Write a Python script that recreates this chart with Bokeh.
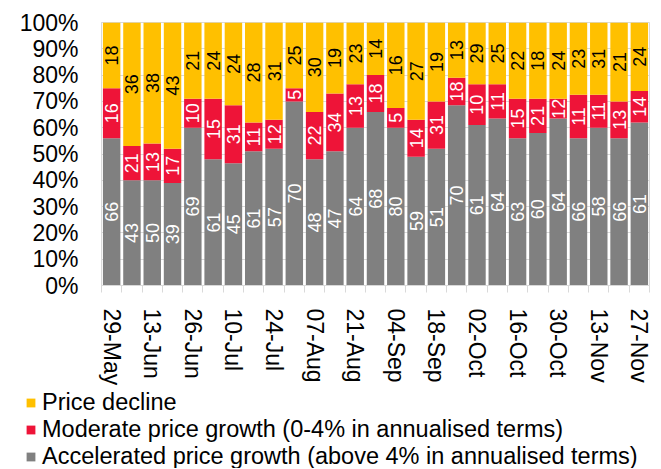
import numpy as np
from bokeh.plotting import figure
from bokeh.models import (ColumnDataSource, FixedTicker, Legend, LegendItem, Range1d)
from bokeh.core.properties import value
from bokeh.embed import file_html
from bokeh.resources import INLINE

# ---- data ----
tick_labels = ["29-May", "13-Jun", "26-Jun", "10-Jul", "24-Jul", "07-Aug", "21-Aug",
               "04-Sep", "18-Sep", "02-Oct", "16-Oct", "30-Oct", "13-Nov", "27-Nov"]

# shares of the bar height (percent)
accel_share = [56, 40, 40, 39, 60, 48, 46.5, 51, 52, 70, 48, 51, 60, 66, 60, 49, 52,
               68.5, 61, 63.5, 56, 58, 63.5, 56, 60, 56, 62]
moder_share = [19, 13, 14, 13, 11, 23, 22, 11, 11, 5, 18, 22, 16.5, 14, 7.5, 14, 18,
               10.5, 15.5, 13, 15, 13, 7.5, 16.5, 12.5, 14, 12]
decl_share = [25, 47, 46, 48, 29, 29, 31.5, 38, 37, 25, 34, 27, 23.5, 20, 32.5, 37, 30,
              21, 23.5, 23.5, 29, 29, 29, 27.5, 27.5, 30, 26]

# numbers printed in the segments
accel_lbl = [66, 43, 50, 39, 69, 61, 45, 61, 57, 70, 48, 47, 64, 68, 80, 59, 51, 70, 61,
             64, 63, 60, 64, 66, 58, 66, 61]
moder_lbl = [16, 21, 13, 17, 10, 15, 31, 11, 12, 5, 22, 34, 13, 18, 5, 14, 31, 18, 10, 11,
             15, 21, 12, 11, 11, 13, 14]
decl_lbl = [18, 36, 38, 43, 21, 24, 24, 28, 31, 25, 30, 19, 23, 14, 16, 27, 19, 13, 29, 25,
            22, 18, 24, 23, 31, 21, 24]

series_names = ["Price decline",
                "Moderate price growth (0-4% in annualised terms)",
                "Accelerated price growth (above 4% in annualised terms)"]

GREY = "#808080"
RED = "#EE1438"
YELLOW = "#FFC000"
FONT = "Liberation Sans"

n = len(accel_share)
xs = list(range(n))
a = np.array(accel_share, dtype=float)
m = np.array(moder_share, dtype=float)
d = np.array(decl_share, dtype=float)

src = ColumnDataSource(dict(
    x=xs, accel=a, moder=m, decl=d,
    a_mid=a / 2, m_mid=a + m / 2, d_mid=a + m + d / 2,
    a_lbl=[str(v) for v in accel_lbl],
    m_lbl=[str(v) for v in moder_lbl],
    d_lbl=[str(v) for v in decl_lbl],
))

p = figure(width=653, height=388, output_backend="svg", toolbar_location=None,
           x_range=Range1d(-0.5, n - 0.5), y_range=Range1d(0, 100),
           min_border_left=101, min_border_right=4, min_border_top=22,
           min_border_bottom=96)

rs = p.vbar_stack(["accel", "moder", "decl"], x="x", width=0.86, source=src,
                  color=[GREY, RED, YELLOW], line_color=None)

for col, ycol, colr in [("a_lbl", "a_mid", "white"), ("m_lbl", "m_mid", "white"),
                        ("d_lbl", "d_mid", "black")]:
    p.text(x="x", y=ycol, text=col, source=src, angle=np.pi / 2,
           text_align="center", text_baseline="middle",
           text_font=value(FONT), text_font_size="18px", text_color=colr)

# axes
p.yaxis.ticker = FixedTicker(ticks=list(range(0, 101, 10)))
p.yaxis.major_label_overrides = {v: f"{v}%" for v in range(0, 101, 10)}
p.yaxis.major_label_text_font = FONT
p.yaxis.major_label_text_font_size = "23px"
p.yaxis.major_label_text_color = "black"
p.yaxis.major_tick_in = 0
p.yaxis.major_tick_out = 0
p.yaxis.minor_tick_in = 0
p.yaxis.minor_tick_out = 0
p.yaxis.axis_line_color = "#D9D9D9"
p.yaxis.major_label_standoff = 23

tick_pos = list(range(0, n, 2))
p.xaxis.ticker = FixedTicker(ticks=tick_pos,
                             minor_ticks=[i - 0.5 for i in range(n + 1)])
p.xaxis.major_label_overrides = {pos: lab for pos, lab in zip(tick_pos, tick_labels)}
p.xaxis.major_label_orientation = "vertical"
p.xaxis.major_label_text_font = FONT
p.xaxis.major_label_text_font_size = "23px"
p.xaxis.major_label_text_color = "black"
p.xaxis.major_tick_in = 0
p.xaxis.major_tick_out = 0
p.xaxis.minor_tick_in = 0
p.xaxis.minor_tick_out = 7
p.xaxis.minor_tick_line_color = "#D9D9D9"
p.xaxis.axis_line_color = "#D9D9D9"
p.xaxis.major_label_standoff = 16

p.xgrid.grid_line_color = None
p.ygrid.ticker = FixedTicker(ticks=list(range(0, 101, 10)))
p.ygrid.grid_line_color = "#D9D9D9"
p.outline_line_color = "#D9D9D9"
p.background_fill_color = "white"
p.border_fill_color = "white"

# ---- legend panel below the chart (separate root so frames are not aligned) ----
leg_fig = figure(width=653, height=80, output_backend="svg", toolbar_location=None,
                 x_range=Range1d(0, 1), y_range=Range1d(0, 1),
                 x_axis_location=None, y_axis_location=None,
                 min_border=0, min_border_left=0, min_border_right=0,
                 min_border_top=0, min_border_bottom=0, outline_line_color=None)
leg_fig.grid.visible = False
# off-screen sample points: only used to give the legend its swatches
swatch = ColumnDataSource(dict(x=[-5.0], top=[-5.0]))
lr = [leg_fig.vbar(x="x", top="top", width=0.5, source=swatch, color=c, line_color=None)
      for c in [YELLOW, RED, GREY]]

legend = Legend(items=[LegendItem(label=name, renderers=[r])
                       for name, r in zip(series_names, lr)],
                location=(25, -2), orientation="vertical",
                glyph_width=11, glyph_height=11, label_standoff=6,
                spacing=-5, padding=0, margin=0, border_line_color=None,
                background_fill_alpha=0,
                label_text_font=FONT, label_text_font_size="23.5px",
                label_text_color="black")
leg_fig.add_layout(legend, "center")

open("out.html", "w").write(file_html([p, leg_fig], INLINE))
